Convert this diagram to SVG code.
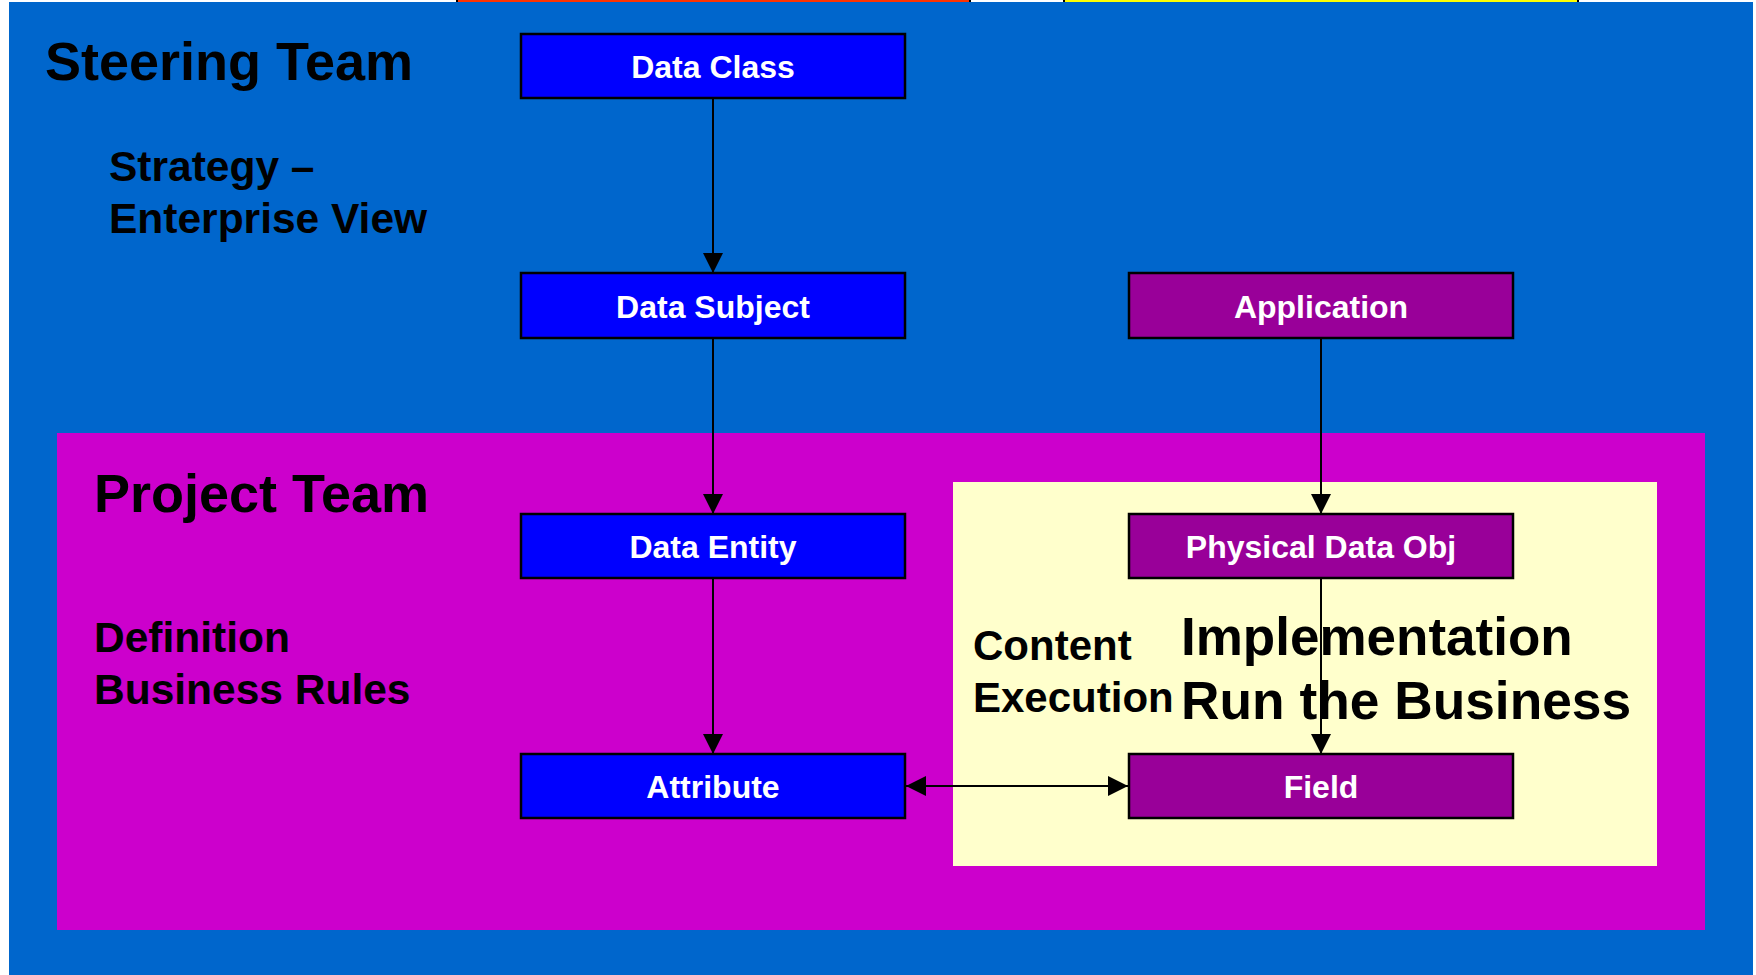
<svg xmlns="http://www.w3.org/2000/svg" width="1756" height="975" viewBox="0 0 1756 975">
  <style>
    .lbl { font-family: "Liberation Sans", Arial, sans-serif; font-weight: bold; fill: #000; }
    .node rect { stroke: #000; stroke-width: 2.5; }
    .logical rect { fill: #0000FF; }
    .physical rect { fill: #990099; }
    .node text { font-family: "Liberation Sans", Arial, sans-serif; font-weight: bold; font-size: 32px; fill: #fff; text-anchor: middle; }
    .link { stroke: #000; stroke-width: 2; fill: none; }
  </style>
  <defs>
    <marker id="arrow" viewBox="0 0 10 10" refX="10" refY="5" markerWidth="20" markerHeight="20" markerUnits="userSpaceOnUse" orient="auto-start-reverse">
      <path d="M0,0 L10,5 L0,10 z" fill="#000"/>
    </marker>
  </defs>

  <!-- page -->
  <rect x="0" y="0" width="1756" height="975" fill="#fff"/>

  <!-- header tabs peeking above the slide -->
  <rect x="457" y="-60" width="513" height="63" fill="#FF3300" stroke="#000" stroke-width="2"/>
  <rect x="1064" y="-60" width="514" height="63" fill="#FFFF00" stroke="#000" stroke-width="2"/>

  <!-- steering team area -->
  <rect x="9" y="2" width="1744" height="973" fill="#0066CC"/>
  <!-- project team area -->
  <rect x="57" y="433" width="1648" height="497" fill="#CC00CC"/>
  <!-- implementation area -->
  <rect x="953" y="482" width="704" height="384" fill="#FFFFCC"/>

  <!-- area captions -->
  <text class="lbl" x="45" y="80" font-size="54">Steering Team</text>
  <text class="lbl" x="109" y="181" font-size="42.5">Strategy –</text>
  <text class="lbl" x="109" y="233" font-size="42.5">Enterprise View</text>
  <text class="lbl" x="94" y="512" font-size="54">Project Team</text>
  <text class="lbl" x="94" y="652" font-size="42.5">Definition</text>
  <text class="lbl" x="94" y="704" font-size="42.5">Business Rules</text>
  <text class="lbl" x="973" y="660" font-size="42">Content</text>
  <text class="lbl" x="973" y="712" font-size="42">Execution</text>
  <text class="lbl" x="1181" y="655" font-size="53">Implementation</text>
  <text class="lbl" x="1181" y="719" font-size="53.3">Run the Business</text>

  <!-- connectors -->
  <g id="connectors">
    <line class="link" x1="713" y1="98" x2="713" y2="273" marker-end="url(#arrow)"/>
    <line class="link" x1="713" y1="338" x2="713" y2="514" marker-end="url(#arrow)"/>
    <line class="link" x1="713" y1="578" x2="713" y2="754" marker-end="url(#arrow)"/>
    <line class="link" x1="1321" y1="338" x2="1321" y2="514" marker-end="url(#arrow)"/>
    <line class="link" x1="1321" y1="578" x2="1321" y2="754" marker-end="url(#arrow)"/>
    <line class="link" x1="906" y1="786" x2="1128" y2="786" marker-start="url(#arrow)" marker-end="url(#arrow)"/>
  </g>

  <!-- logical nodes -->
  <g id="data-class" class="node logical">
    <rect x="521" y="34" width="384" height="64"/>
    <text x="713" y="78">Data Class</text>
  </g>
  <g id="data-subject" class="node logical">
    <rect x="521" y="273" width="384" height="65"/>
    <text x="713" y="318">Data Subject</text>
  </g>
  <g id="data-entity" class="node logical">
    <rect x="521" y="514" width="384" height="64"/>
    <text x="713" y="558">Data Entity</text>
  </g>
  <g id="attribute" class="node logical">
    <rect x="521" y="754" width="384" height="64"/>
    <text x="713" y="798">Attribute</text>
  </g>

  <!-- physical nodes -->
  <g id="application" class="node physical">
    <rect x="1129" y="273" width="384" height="65"/>
    <text x="1321" y="318">Application</text>
  </g>
  <g id="physical-data-obj" class="node physical">
    <rect x="1129" y="514" width="384" height="64"/>
    <text x="1321" y="558">Physical Data Obj</text>
  </g>
  <g id="field" class="node physical">
    <rect x="1129" y="754" width="384" height="64"/>
    <text x="1321" y="798">Field</text>
  </g>
</svg>
